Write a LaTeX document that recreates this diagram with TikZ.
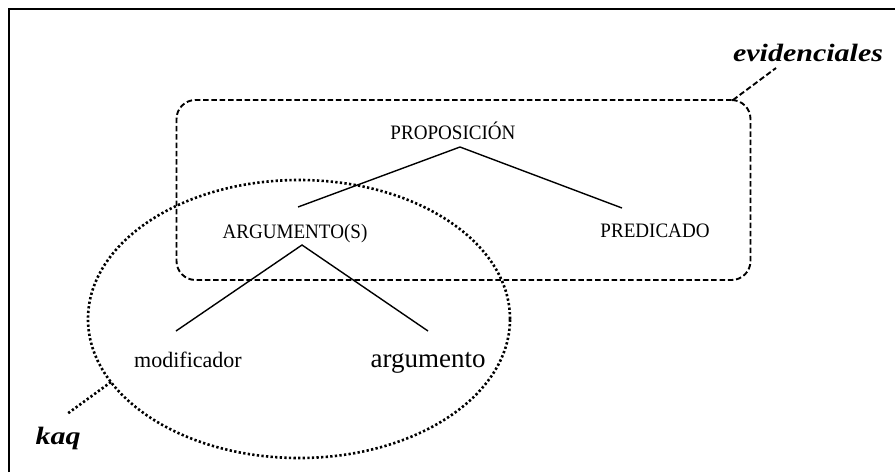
\documentclass[tikz,border=0pt]{standalone}
\usepackage{fontspec}
\setmainfont{Liberation Serif}
\newfontfamily\capsfont[FakeStretch=0.93]{Liberation Serif}
\newfontfamily\labfont[FakeStretch=1.2]{Liberation Serif}
\usetikzlibrary{shapes.geometric}
\begin{document}
\begin{tikzpicture}[x=1pt,y=-1pt,
  caps/.style={inner sep=0pt, anchor=base, font=\capsfont\fontsize{20.5}{24}\selectfont},
  lab/.style={inner sep=0pt, anchor=base, font=\labfont\bfseries\itshape\fontsize{25}{30}\selectfont},
  branch/.style={line width=1.4pt},
  dashline/.style={line width=1.9pt, dash pattern=on 5.5pt off 2.8pt},
  dotline/.style={line width=2.6pt, dash pattern=on 2.3pt off 2.3pt}]
\useasboundingbox (0,0) rectangle (895,472);
\fill[white] (0,0) rectangle (895,472);
% frame
\draw[line width=2.6pt] (9,472) -- (9,9) -- (895,9);
% dashed box
\node[draw, dashline, rounded corners=19pt, minimum width=574pt, minimum height=180pt] (evbox) at (463.5,190) {};
% dotted ellipse
\node[draw, dotline, ellipse, minimum width=422pt, minimum height=278pt, inner sep=0pt] (kaqell) at (299,319) {};
% texts
\node[caps] (prop) at (453,139) {PROPOSICIÓN};
\node[caps] (arg) at (295,238) {ARGUMENTO(S)};
\node[caps] (pred) at (655,237) {PREDICADO};
\node[inner sep=0pt, anchor=base, font=\fontsize{22}{26}\selectfont] (mod) at (188,367) {modificador};
\node[inner sep=0pt, anchor=base, font=\fontsize{27}{32}\selectfont] (argu) at (428,367) {argumento};
\node[lab] (evid) at (808,61) {evidenciales};
\node[lab] (kaq) at (58,444) {kaq};
% tree branch points
\coordinate (pa) at (460,147);
\coordinate (pl) at (298,207);
\coordinate (pr) at (622,208);
\coordinate (aa) at (302,245);
\coordinate (al) at (176,331);
\coordinate (ar) at (428,331);
\draw[branch] (pl) -- (pa) -- (pr);
\draw[branch] (al) -- (aa) -- (ar);
% leaders
\coordinate (evstart) at (733,100);
\coordinate (evend) at (776,68);
\draw[dashline] (evstart) -- (evend);
\coordinate (kstart) at (111,382);
\coordinate (kend) at (67,414);
\draw[dotline] (kstart) -- (kend);
\end{tikzpicture}
\end{document}
